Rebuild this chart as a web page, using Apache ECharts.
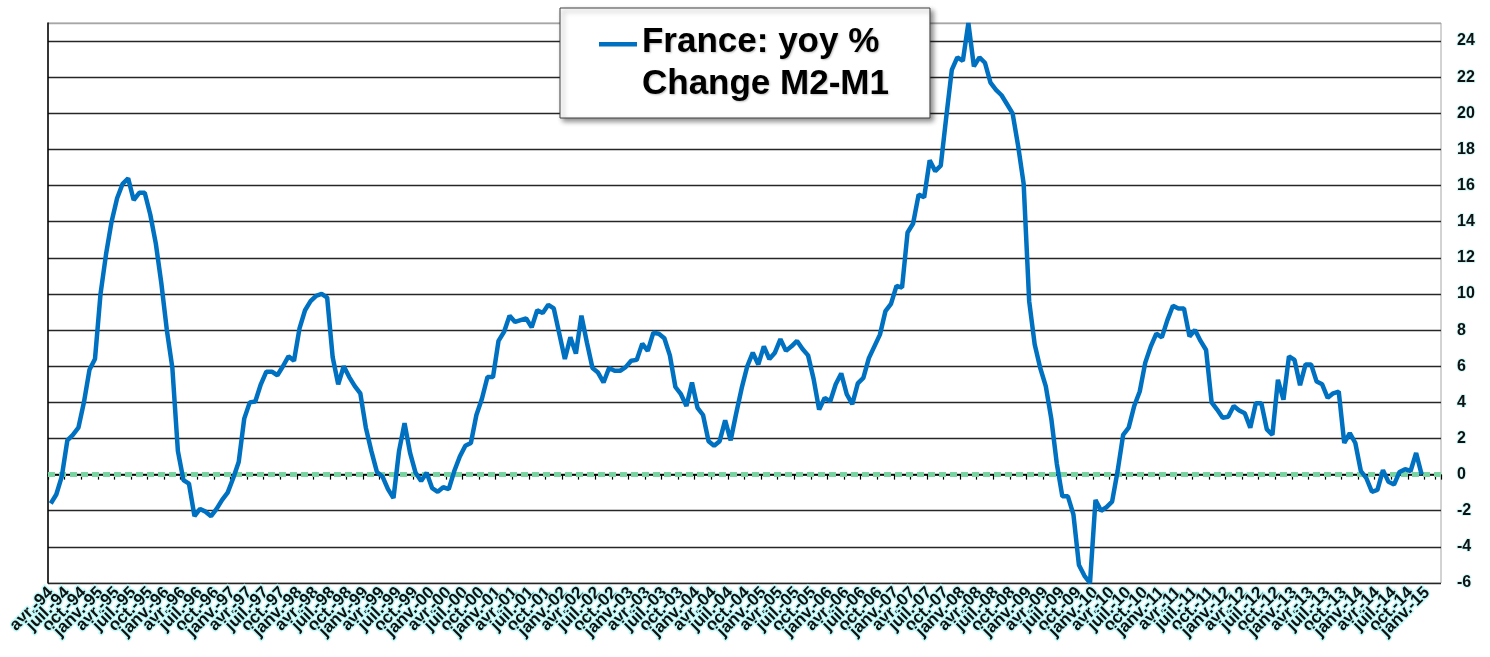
<!DOCTYPE html>
<html>
<head>
<meta charset="utf-8">
<script src="https://cdn.jsdelivr.net/npm/echarts@6/dist/echarts.min.js"></script>
<style>
  html, body { margin: 0; padding: 0; background: #fff; }
  #chart { width: 1490px; height: 657px; }
</style>
</head>
<body>
<div id="chart"></div>
<script>
// ---- DATA ----
const monthNames = ['janv.','févr.','mars','avr.','mai','juin','juil.','août','sept.','oct.','nov.','déc.'];
const startYear = 1994, startMonth = 3;   // avr.-94
const monthCount = 252;                   // avr.-94 .. mars-15 (axis span)
const seriesName = 'France: yoy %\nChange M2-M1';
// monthly values, starting avr.-94 (one row per 12 months)
const m2m1Yoy = [
  -1.6, -1.1, -0.1, 1.9, 2.2, 2.6, 4.0, 5.8, 6.4, 10.0, 12.2, 14.0,
  15.3, 16.1, 16.4, 15.2, 15.6, 15.6, 14.4, 12.8, 10.6, 8.0, 5.9, 1.3,
  -0.3, -0.5, -2.3, -1.9, -2.05, -2.3, -1.9, -1.4, -1.0, -0.2, 0.7, 3.1,
  4.0, 4.05, 5.0, 5.7, 5.7, 5.5, 6.0, 6.55, 6.3, 8.1, 9.1, 9.6,
  9.9, 10.0, 9.8, 6.5, 5.0, 6.0, 5.4, 4.9, 4.5, 2.6, 1.3, 0.15,
  -0.1, -0.8, -1.3, 1.3, 2.85, 1.2, 0.1, -0.35, 0.1, -0.75, -0.95, -0.7,
  -0.8, 0.2, 1.0, 1.6, 1.75, 3.3, 4.2, 5.4, 5.4, 7.4, 7.9, 8.8,
  8.45, 8.55, 8.65, 8.15, 9.1, 8.95, 9.4, 9.2, 7.8, 6.4, 7.6, 6.7,
  8.8, 7.3, 5.9, 5.65, 5.1, 5.9, 5.75, 5.75, 5.95, 6.3, 6.35, 7.25,
  6.85, 7.85, 7.8, 7.55, 6.6, 4.85, 4.45, 3.8, 5.1, 3.7, 3.3, 1.85,
  1.6, 1.85, 3.0, 1.9, 3.4, 4.8, 6.0, 6.75, 6.1, 7.1, 6.4, 6.75,
  7.5, 6.85, 7.1, 7.4, 6.95, 6.6, 5.3, 3.6, 4.25, 4.05, 5.0, 5.6,
  4.45, 3.9, 5.05, 5.35, 6.45, 7.1, 7.75, 9.05, 9.45, 10.45, 10.35, 13.4,
  13.9, 15.5, 15.35, 17.4, 16.8, 17.1, 19.8, 22.4, 23.1, 22.9, 25.0, 22.6,
  23.1, 22.8, 21.7, 21.3, 21.0, 20.5, 20.0, 18.2, 16.1, 9.6, 7.2, 5.9,
  4.9, 3.1, 0.6, -1.2, -1.2, -2.2, -5.0, -5.6, -6.0, -1.4, -2.0, -1.8,
  -1.5, 0.2, 2.2, 2.6, 3.8, 4.6, 6.2, 7.1, 7.8, 7.6, 8.55, 9.35,
  9.2, 9.2, 7.65, 8.0, 7.4, 6.9, 4.0, 3.6, 3.15, 3.2, 3.8, 3.55,
  3.4, 2.6, 3.95, 3.95, 2.5, 2.2, 5.25, 4.15, 6.55, 6.35, 4.95, 6.1,
  6.1, 5.15, 5.0, 4.25, 4.5, 4.6, 1.75, 2.3, 1.75, 0.2, -0.2, -0.95,
  -0.85, 0.25, -0.4, -0.55, 0.15, 0.3, 0.2, 1.2, 0.0
];
const yMin = -6, yMax = 25, yStep = 2;
const labelEvery = 3;   // one x label per quarter

// ---- BUILD ----
const categories = [];
for (let k = 0; k < monthCount; k++) {
  const m = (startMonth + k) % 12;
  const y = startYear + Math.floor((startMonth + k) / 12);
  categories.push(monthNames[m] + '-' + String(y % 100).padStart(2, '0'));
}
const splitColors = [];
for (let v = yMin; v < yMax; v += yStep) splitColors.push('#262626');
splitColors.push('#a6a6a6');

const chart = echarts.init(document.getElementById('chart'));
chart.setOption({
  animation: false,
  backgroundColor: '#ffffff',
  grid: { left: 48, right: 49, top: 23, bottom: 74, show: true,
          borderColor: '#a6a6a6', borderWidth: 1, backgroundColor: 'transparent' },
  legend: {
    left: 560, top: 8,
    orient: 'vertical',
    padding: [13, 41, 13, 39],
    backgroundColor: '#ffffff',
    borderColor: '#404040', borderWidth: 1,
    shadowColor: 'rgba(0,0,0,0.45)', shadowBlur: 5, shadowOffsetX: 3, shadowOffsetY: 3,
    icon: 'path://M0,0 L38,0 L38,4.5 L0,4.5 Z M0,42 L0.01,42 L0.01,42.01 Z',
    itemWidth: 38, itemHeight: 42,
    textStyle: { fontFamily: 'Liberation Sans, Arial, sans-serif', fontSize: 35, fontWeight: 'bold',
                 color: '#000', lineHeight: 42,
                 textShadowColor: 'rgba(0,0,0,0.25)', textShadowBlur: 2, textShadowOffsetX: 1, textShadowOffsetY: 1 },
    data: [seriesName]
  },
  xAxis: {
    type: 'category',
    data: categories,
    boundaryGap: true,
    axisLine: { show: true, lineStyle: { color: '#000', width: 1.5 } },
    axisTick: { show: true, interval: labelEvery - 1, length: 5, lineStyle: { color: '#000', width: 1.2 } },
    axisLabel: {
      interval: 0,
      formatter: function (val, idx) { return idx % labelEvery === 0 ? val : ''; },
      rotate: 45, margin: 7,
      fontFamily: 'Liberation Sans, Arial, sans-serif', fontSize: 17, fontWeight: 'bold',
      color: '#111', textBorderColor: 'rgba(190,250,250,0.9)', textBorderWidth: 3
    },
    splitLine: { show: false }
  },
  yAxis: [{
    type: 'value', position: 'right',
    min: yMin, max: yMax, interval: yStep,
    axisLine: { show: false }, axisTick: { show: false },
    axisLabel: { margin: 16, showMaxLabel: false,
                 fontFamily: 'Liberation Sans, Arial, sans-serif', fontSize: 16, fontWeight: 'bold',
                 color: '#111', textBorderColor: 'rgba(200,250,250,0.8)', textBorderWidth: 2 },
    splitLine: { show: true, lineStyle: { color: splitColors, width: 1.3 } }
  }, {
    type: 'value', position: 'left',
    min: yMin, max: yMax, interval: yStep,
    axisLine: { show: true, lineStyle: { color: '#000', width: 1.5 } },
    axisTick: { show: false }, axisLabel: { show: false }, splitLine: { show: false }
  }],
  series: [{
    name: seriesName,
    type: 'line',
    yAxisIndex: 0,
    z: 3,
    data: m2m1Yoy,
    color: '#0070C0',
    showSymbol: false,
    symbol: 'none',
    lineStyle: { color: '#0070C0', width: 4.5 },
    itemStyle: { color: '#0070C0' },
    markLine: {
      silent: true, symbol: 'none', label: { show: false }, z: 2,
      lineStyle: { color: '#78d4a0', width: 5, type: [7, 4], opacity: 1 },
      emphasis: { disabled: true },
      data: [{ yAxis: 0 }]
    }
  }]
});
</script>
</body>
</html>
